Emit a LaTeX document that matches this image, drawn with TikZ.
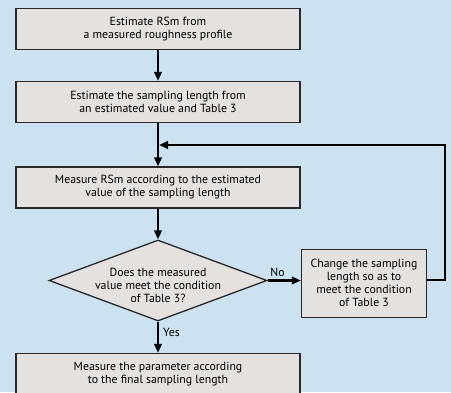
\documentclass[tikz,border=0pt]{standalone}
\usepackage{fontspec}
\setmainfont{PT Sans}
\usetikzlibrary{shapes.geometric,arrows.meta}
\definecolor{bgblue}{RGB}{204,226,240}
\definecolor{boxfill}{RGB}{229,225,222}
\definecolor{boxline}{RGB}{40,40,40}
\tikzset{
  stepbox/.style={draw=boxline,fill=boxfill,line width=1.3pt,minimum width=284pt,minimum height=41pt,inner sep=0pt,align=center,font=\fontsize{11.8}{13}\selectfont},
  txt/.style={align=center,font=\fontsize{11.8}{13}\selectfont,inner sep=0pt},
  arr/.style={line width=2.4pt,-{Triangle[length=9pt,width=7.5pt]}},
}
\begin{document}
\begin{tikzpicture}[x=1pt,y=-1pt]
\fill[bgblue] (0,0) rectangle (451,392);
\useasboundingbox (0,0) rectangle (451,392);
\node[stepbox] (b1) at (158,29) {Estimate RSm from\\a measured roughness profile};
\node[stepbox] (b2) at (158,102) {Estimate the sampling length from\\an estimated value and Table 3};
\node[stepbox] (b3) at (158,187.5) {Measure RSm according to the estimated\\value of the sampling length};
\node[diamond,draw=boxline,fill=boxfill,line width=1.3pt,minimum width=218pt,minimum height=81pt,inner sep=0pt,aspect=2.7] (d) at (158,280.5) {};
\node[txt] (dt) at (158,285) {Does the measured\\value meet the condition\\of Table 3?};
\node[stepbox,minimum width=125pt,minimum height=68pt] (b4) at (364,283.3) {Change the sampling\\length so as to\\meet the condition\\of Table 3};
\node[stepbox] (b5) at (158,374) {Measure the parameter according\\to the final sampling length};
\coordinate (j) at (159,145);
\coordinate (r) at (445,280);
\draw[arr] (b1.south) -- (b2.north);
\draw[arr] (b2.south) -- (b3.north);
\draw[arr] (b3.south) -- (d.north);
\draw[arr] (d.south) -- node[txt,right=4pt,pos=0.35] {Yes} (b5.north);
\draw[arr] (d.east) -- node[txt,above=3pt,pos=0.3] {No} (b4.west |- d.east);
\draw[arr] (b4.east |- r) -- (r) |- (j);
\end{tikzpicture}
\end{document}
